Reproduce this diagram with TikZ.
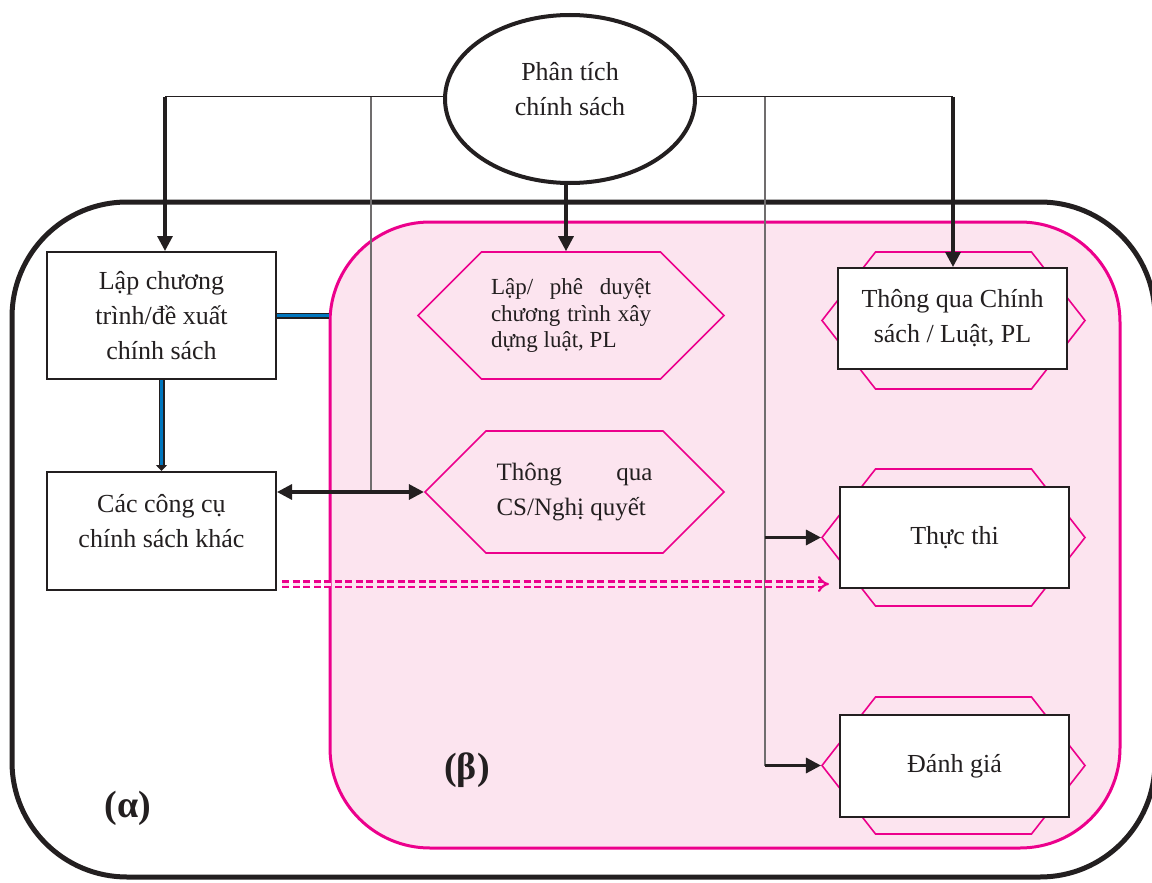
\documentclass[tikz,border=0pt]{standalone}
\usepackage{fontspec}
\setmainfont{Liberation Serif}
\usetikzlibrary{arrows.meta,shapes.geometric,shapes.symbols,calc}
\definecolor{hong}{RGB}{236,0,140}
\definecolor{honglot}{RGB}{252,228,239}
\definecolor{xanh}{RGB}{0,118,190}
\definecolor{chu}{RGB}{35,31,32}
\newcommand{\nang}[2]{\raisebox{#1}[0pt][0pt]{\begin{tabular}{@{}c@{}}#2\end{tabular}}}
\begin{document}
\begin{tikzpicture}[x=1pt, y=-1pt, font=\fontsize{26}{35}\selectfont, text=chu]
  \tikzstyle{hop}=[draw=chu, line width=2pt, fill=white, align=center, inner sep=0pt]
  \tikzstyle{lucgiac}=[shape=signal, signal to=east and west, signal pointer angle=90, draw=hong, line width=1.6pt, inner sep=0pt]
  \tikzstyle{muiten}=[line width=3.2pt, draw=chu, -{Triangle[length=15pt,width=15pt]}]
  \tikzstyle{manh}=[line width=1.1pt, draw=chu!65]
%  \tikzstyle{every node}=[draw=red]
  \useasboundingbox (0,0) rectangle (1152,883);
  \node[draw=chu, line width=5pt, rounded corners=115pt, minimum width=1143pt, minimum height=675pt] (alpha) at (583.5,539.5) {};
  \node[draw=hong, fill=honglot, line width=3pt, rounded corners=100pt, minimum width=790pt, minimum height=626pt] (beta) at (725,535) {};
  \coordinate (tr) at (165,97);
  \coordinate (ph) at (953,97);
  \coordinate (g1) at (371,97);
  \coordinate (g2) at (765,97);
  \draw[line width=1pt, draw=chu] (tr) -- (ph);
  \node[ellipse, draw=chu, line width=4pt, fill=white, minimum width=250pt, minimum height=168pt] (pt) at (570,99) {\nang{2pt}{Phân tích\\chính sách}};
  \node[hop, minimum width=229pt, minimum height=127pt] (lap) at (161.5,315.5) {Lập chương\\trình/đề xuất\\chính sách};
  \node[hop, minimum width=229pt, minimum height=118pt] (cu) at (161.5,531) {\nang{2pt}{Các công cụ\\chính sách khác}};
  \node[lucgiac, minimum width=306pt, minimum height=127pt, text width=160pt, align=justify, font=\fontsize{23}{26.5}\selectfont] (duyet) at (571,315.5) {Lập/ phê duyệt chương trình xây dựng luật, PL};
  \node[lucgiac, minimum width=299pt, minimum height=122pt, text width=156pt, align=justify, font=\fontsize{25}{35}\selectfont] (nghi) at (574.5,492) {Thông qua CS/Nghị quyết};
  \node[lucgiac, signal pointer angle=104, minimum width=263pt, minimum height=137pt] (hqua) at (953.5,320.5) {};
  \node[lucgiac, signal pointer angle=104, minimum width=263pt, minimum height=137pt] (hthuc) at (953.5,537.5) {};
  \node[lucgiac, signal pointer angle=104, minimum width=263pt, minimum height=137pt] (hdanh) at (953.5,765.5) {};
  \node[hop, minimum width=229pt, minimum height=101pt] (qua) at (952.5,318.5) {Thông qua Chính\\sách / Luật, PL};
  \node[hop, minimum width=229pt, minimum height=101pt] (thuc) at (954.5,537.5) {Thực thi};
  \node[hop, minimum width=229pt, minimum height=102pt] (danh) at (954.5,766) {Đánh giá};
  \node[font=\fontsize{38}{40}\bfseries\selectfont] (a) at (128,808) {(α)};
  \node[font=\fontsize{38}{40}\bfseries\selectfont] (b) at (467,770) {(β)};
  \draw[manh] (g1) -- (g1 |- nghi.west);
  \draw[manh] (g2) -- (g2 |- hdanh.west);
  \draw[muiten] (tr) -- (tr |- lap.north);
  \draw[muiten] (ph) -- (ph |- qua.north);
  \draw[muiten] ([xshift=-4pt]pt.south) -- ([xshift=-4pt]pt.south |- duyet.north);
  \draw[muiten, {Triangle[length=15pt,width=15pt]}-{Triangle[length=15pt,width=15pt]}] (cu.east |- nghi.west) -- (nghi.west);
  \draw[muiten] (g2 |- hthuc.west) -- (hthuc.west);
  \draw[muiten] (g2 |- hdanh.west) -- (hdanh.west);
  \draw[line width=6pt, draw=chu] (lap.east) -- (lap.east -| beta.west);
  \draw[line width=2.2pt, draw=xanh] (lap.east) -- (lap.east -| beta.west);
  \draw[line width=6pt, draw=chu, -{Triangle[length=6pt,width=11pt]}] (lap.south) -- (cu.north);
  \draw[line width=2.2pt, draw=xanh, shorten >=6pt] (lap.south) -- (cu.north);
  \draw[hong, line width=2.2pt, double=honglot, double distance=3pt, dash pattern=on 7pt off 3.5pt, -{Implies}] ($(cu.south east)+(5,-7)$) -- ($(thuc.south west)+(-10,-5)$);
\end{tikzpicture}
\end{document}
